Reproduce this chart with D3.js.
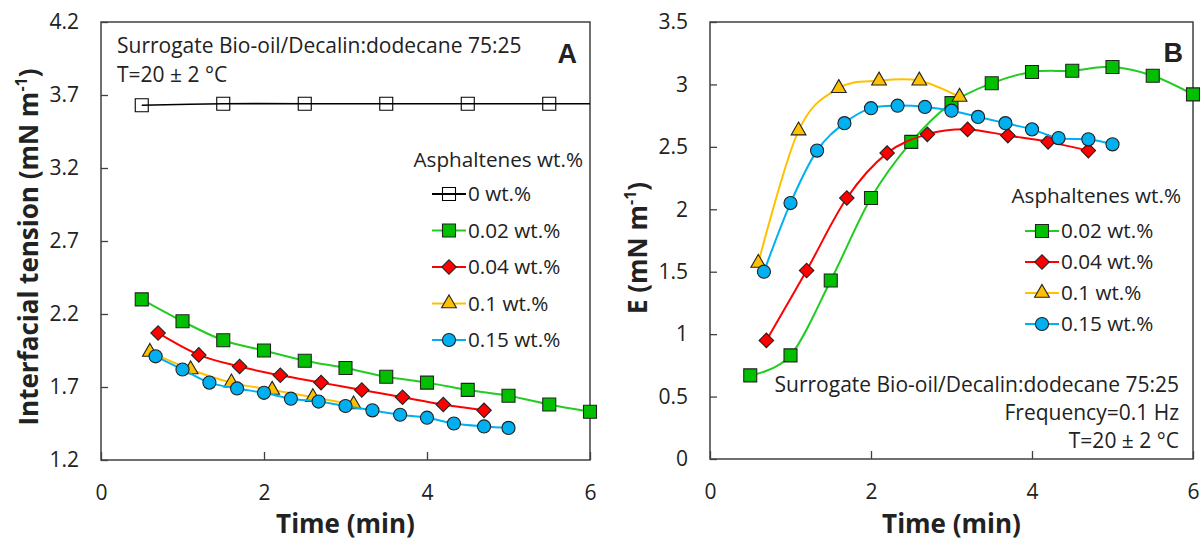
<!DOCTYPE html>
<html>
<head>
<meta charset="utf-8">
<script src="https://cdn.jsdelivr.net/npm/d3@7"></script>
<style>
  body { margin: 0; background: #fff; }
  text { font-family: "Open Sans", Lato, sans-serif; fill: #222; }
</style>
</head>
<body>
<svg id="chart" width="1201" height="541"></svg>
<script>
// ---- panel A : interfacial tension vs time ----
const timeA_0    = [0.5, 1.5, 2.5, 3.5, 4.5, 5.5, 6.5];
const iftA_0     = [3.63, 3.64, 3.64, 3.64, 3.64, 3.64, 3.64];
const timeA_002  = [0.5, 1, 1.5, 2, 2.5, 3, 3.5, 4, 4.5, 5, 5.5, 6];
const iftA_002   = [2.30, 2.15, 2.02, 1.95, 1.88, 1.83, 1.77, 1.73, 1.68, 1.64, 1.58, 1.53];
const timeA_004  = [0.7, 1.2, 1.7, 2.2, 2.7, 3.2, 3.7, 4.2, 4.7];
const iftA_004   = [2.07, 1.92, 1.84, 1.78, 1.73, 1.68, 1.63, 1.58, 1.54];
const timeA_01   = [0.6, 1.1, 1.6, 2.1, 2.6, 3.1];
const iftA_01    = [1.94, 1.82, 1.73, 1.68, 1.63, 1.58];
const timeA_015  = [0.67, 1, 1.33, 1.67, 2, 2.33, 2.67, 3, 3.33, 3.67, 4, 4.33, 4.7, 5];
const iftA_015   = [1.91, 1.82, 1.73, 1.69, 1.66, 1.62, 1.60, 1.57, 1.54, 1.51, 1.49, 1.45, 1.43, 1.42];

// ---- panel B : elasticity E vs time ----
const timeB_002  = [0.5, 1, 1.5, 2, 2.5, 3, 3.5, 4, 4.5, 5, 5.5, 6];
const eB_002     = [0.67, 0.83, 1.43, 2.09, 2.54, 2.85, 3.01, 3.10, 3.11, 3.14, 3.07, 2.92];
const timeB_004  = [0.7, 1.2, 1.7, 2.2, 2.7, 3.2, 3.7, 4.2, 4.7];
const eB_004     = [0.95, 1.51, 2.09, 2.45, 2.60, 2.64, 2.59, 2.54, 2.47];
const timeB_01   = [0.6, 1.1, 1.6, 2.1, 2.6, 3.1];
const eB_01      = [1.57, 2.63, 2.97, 3.03, 3.03, 2.90];
const timeB_015  = [0.67, 1, 1.33, 1.67, 2, 2.33, 2.67, 3, 3.33, 3.67, 4, 4.33, 4.7, 5];
const eB_015     = [1.50, 2.05, 2.47, 2.69, 2.81, 2.83, 2.82, 2.79, 2.74, 2.69, 2.64, 2.57, 2.56, 2.52];

const xTicks  = [0, 2, 4, 6];
const yTicksA = [1.2, 1.7, 2.2, 2.7, 3.2, 3.7, 4.2];
const yTicksB = [0, 0.5, 1, 1.5, 2, 2.5, 3, 3.5];

const legendTitle = "Asphaltenes wt.%";

// series styles
const styles = {
  "0":    { label: "0 wt.%",    line: "#000000", fill: "none",    shape: "square" },
  "0.02": { label: "0.02 wt.%", line: "#22cc22", fill: "#00c000", shape: "square" },
  "0.04": { label: "0.04 wt.%", line: "#ff0000", fill: "#ff0000", shape: "diamond" },
  "0.1":  { label: "0.1 wt.%",  line: "#ffc000", fill: "#ffc000", shape: "triangle" },
  "0.15": { label: "0.15 wt.%", line: "#00b0f0", fill: "#00b0f0", shape: "circle" }
};

const zip = (xs, ys) => xs.map((x, i) => ({ x: x, y: ys[i] }));

const seriesA = [
  { key: "0",    pts: zip(timeA_0, iftA_0) },
  { key: "0.02", pts: zip(timeA_002, iftA_002) },
  { key: "0.04", pts: zip(timeA_004, iftA_004) },
  { key: "0.1",  pts: zip(timeA_01, iftA_01) },
  { key: "0.15", pts: zip(timeA_015, iftA_015) }
];
const seriesB = [
  { key: "0.02", pts: zip(timeB_002, eB_002) },
  { key: "0.04", pts: zip(timeB_004, eB_004) },
  { key: "0.1",  pts: zip(timeB_01, eB_01) },
  { key: "0.15", pts: zip(timeB_015, eB_015) }
];

const svg = d3.select("#chart");

function symbolPath(shape) {
  if (shape === "square")   return d3.symbol(d3.symbolSquare, 169)();
  if (shape === "diamond")  return d3.symbol(d3.symbolSquare, 105)();
  if (shape === "triangle") return d3.symbol(d3.symbolTriangle, 95)();
  return d3.symbol(d3.symbolCircle, 135)();
}

function drawMarker(g, shape, st) {
  return g.append("path")
    .attr("d", symbolPath(shape))
    .attr("transform", shape === "diamond" ? "rotate(45)" : null)
    .attr("fill", st.fill)
    .attr("stroke", st.fill === "none" ? "#000" : "#222")
    .attr("stroke-width", 1.1);
}

function panel(opt) {
  const x = d3.scaleLinear().domain([0, 6]).range([opt.left, opt.right]);
  const y = d3.scaleLinear().domain(opt.yDomain).range([opt.bottom, opt.top]);
  const g = svg.append("g");

  // clip paths
  const cid = "clip" + opt.id;
  const defs = svg.append("defs");
  defs.append("clipPath").attr("id", cid).append("rect")
    .attr("x", opt.left).attr("y", opt.top)
    .attr("width", opt.right - opt.left).attr("height", opt.bottom - opt.top);
  defs.append("clipPath").attr("id", cid + "m").append("rect")
    .attr("x", opt.left - 9).attr("y", opt.top - 9)
    .attr("width", opt.right - opt.left + 18).attr("height", opt.bottom - opt.top + 18);

  // axes (inward ticks)
  const ya = g.append("g").attr("transform", `translate(${opt.left},0)`)
    .call(d3.axisLeft(y).tickValues(opt.yTicks).tickSize(-7).tickPadding(22)
      .tickFormat(opt.yFormat));
  const xa = g.append("g").attr("transform", `translate(0,${opt.bottom})`)
    .call(d3.axisBottom(x).tickValues(xTicks).tickSize(-8).tickPadding(25)
      .tickFormat(d3.format("d")));
  [ya, xa].forEach(a => {
    a.select(".domain").remove();
    a.selectAll("line").attr("stroke", "#404040").attr("stroke-width", 1.3);
    a.selectAll("text").style("font-size", "21px").attr("fill", "#222");
  });

  // frame
  g.append("rect")
    .attr("x", opt.left).attr("y", opt.top)
    .attr("width", opt.right - opt.left).attr("height", opt.bottom - opt.top)
    .attr("fill", "none").attr("stroke", "#404040").attr("stroke-width", 1.5);

  const line = d3.line().x(d => x(d.x)).y(d => y(d.y)).curve(d3.curveCardinal.tension(0));

  opt.series.forEach(s => {
    const st = styles[s.key];
    g.append("path").datum(s.pts)
      .attr("clip-path", `url(#${cid})`)
      .attr("d", line)
      .attr("fill", "none")
      .attr("stroke", st.line)
      .attr("stroke-width", s.key === "0" ? 1.6 : 2);
    const mg = g.append("g").attr("clip-path", `url(#${cid}m)`);
    s.pts.forEach(p => {
      const m = mg.append("g").attr("transform", `translate(${x(p.x)},${y(p.y)})`);
      drawMarker(m, st.shape, st);
    });
  });

  // legend
  const lg = g.append("g");
  lg.append("text").attr("x", opt.legend.titleRight).attr("y", opt.legend.titleY)
    .attr("text-anchor", "end").style("font-size", "20.7px").text(legendTitle);
  opt.series.forEach((s, i) => {
    const st = styles[s.key];
    const cy = opt.legend.rowY + i * opt.legend.step;
    const lx = opt.legend.lineX;
    lg.append("line").attr("x1", lx).attr("x2", lx + 34).attr("y1", cy).attr("y2", cy)
      .attr("stroke", st.line).attr("stroke-width", 2);
    drawMarker(lg.append("g").attr("transform", `translate(${lx + 17},${cy})`), st.shape, st);
    lg.append("text").attr("x", lx + 36).attr("y", cy).attr("dy", "0.36em")
      .style("font-size", "20.7px").text(st.label);
  });

  // axis titles
  g.append("text").attr("x", (opt.left + opt.right) / 2).attr("y", 533)
    .attr("text-anchor", "middle").style("font-size", "26px").style("font-weight", "bold")
    .text("Time (min)");
  const yt = g.append("text")
    .attr("transform", `translate(${opt.yTitleX},${opt.yTitleY}) rotate(-90)`)
    .attr("text-anchor", "middle").style("font-size", "26px").style("font-weight", "bold");
  yt.append("tspan").text(opt.yTitle + " (mN m");
  yt.append("tspan").attr("baseline-shift", "super").style("font-size", "16px").text("-1");
  yt.append("tspan").text(")");

  // panel letter
  g.append("text").attr("x", opt.letterX).attr("y", opt.letterY)
    .attr("text-anchor", "end")
    .style("font-family", "'Liberation Sans', Arial, sans-serif")
    .style("font-size", "27px").style("font-weight", "bold").attr("fill", "#000")
    .text(opt.letter);

  // notes
  opt.notes.forEach(n => {
    g.append("text").attr("x", n.x).attr("y", n.y).attr("text-anchor", n.anchor)
      .style("font-size", "21px").text(n.t);
  });
}

panel({
  id: "A", left: 101, right: 590, top: 22, bottom: 460,
  yDomain: [1.2, 4.2], yTicks: yTicksA, yFormat: d3.format(".1f"),
  series: seriesA, yTitle: "Interfacial tension", yTitleX: 38, yTitleY: 247,
  legend: { titleRight: 583, titleY: 167, rowY: 194, step: 36.5, lineX: 432 },
  letter: "A", letterX: 577, letterY: 63,
  notes: [
    { t: "Surrogate Bio-oil/Decalin:dodecane 75:25", x: 117, y: 53, anchor: "start" },
    { t: "T=20 \u00b1 2 \u00b0C", x: 117, y: 82, anchor: "start" }
  ]
});

panel({
  id: "B", left: 710, right: 1193, top: 22, bottom: 459,
  yDomain: [0, 3.5], yTicks: yTicksB, yFormat: d => String(d),
  series: seriesB, yTitle: "E", yTitleX: 647, yTitleY: 248,
  legend: { titleRight: 1181, titleY: 203, rowY: 231, step: 31, lineX: 1025 },
  letter: "B", letterX: 1183, letterY: 62,
  notes: [
    { t: "Surrogate Bio-oil/Decalin:dodecane 75:25", x: 1179, y: 392, anchor: "end" },
    { t: "Frequency=0.1 Hz", x: 1179, y: 420, anchor: "end" },
    { t: "T=20 \u00b1 2 \u00b0C", x: 1179, y: 448, anchor: "end" }
  ]
});
</script>
</body>
</html>
